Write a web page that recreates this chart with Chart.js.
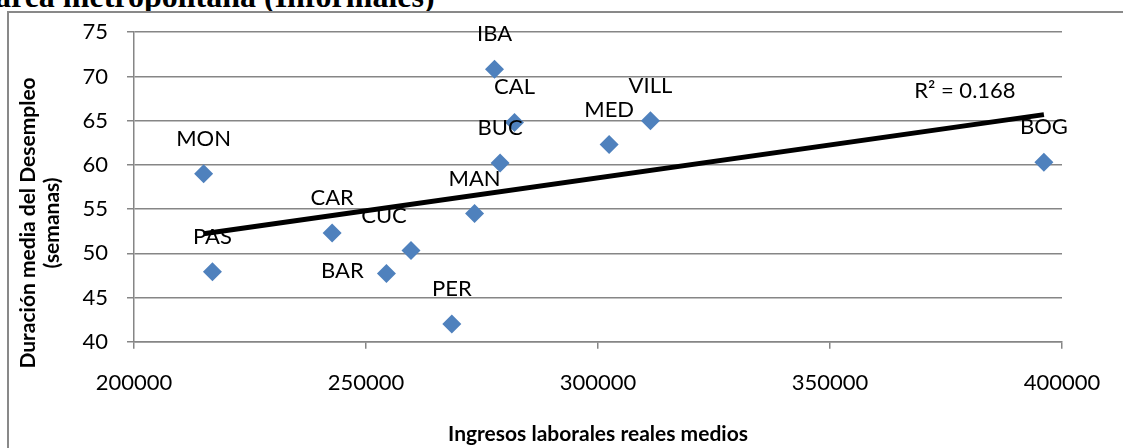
<!DOCTYPE html>
<html lang="es">
<head>
<meta charset="utf-8">
<title>Duración media del desempleo vs ingresos laborales</title>
<script src="https://cdn.jsdelivr.net/npm/chart.js@4.4.1/dist/chart.umd.min.js"></script>
<style>
  html, body { margin: 0; padding: 0; background: #fff; }
  #wrap { position: relative; width: 1123px; height: 448px; overflow: hidden; }
  #ttl { position: absolute; left: -5px; top: -20px; font: bold 32px/32px "Liberation Serif", serif; color: #000; white-space: nowrap; }
  #frame { position: absolute; left: 7px; top: 11px; width: 1200px; height: 500px; border-left: 2px solid #898989; border-top: 2px solid #898989; background: #fff; }
  #c { position: absolute; left: 0; top: 0; }
</style>
</head>
<body>
<div id="wrap">
  <div id="ttl">área metropolitana (Informales)</div>
  <div id="frame"></div>
  <canvas id="c" width="1123" height="448"></canvas>
</div>
<script>
// === Datos
const ciudades = ["MON", "PAS", "CAR", "BAR", "CUC", "PER", "MAN", "IBA", "BUC", "CAL", "MED", "VILL", "BOG"];
const ingresos = [215000, 216900, 242700, 254400, 259700, 268500, 273400, 277700, 278900, 282000, 302400, 311300, 396100];
const duracion = [59.0, 47.9, 52.3, 47.7, 50.3, 42.0, 54.5, 70.8, 60.2, 64.8, 62.3, 65.0, 60.3];
const xTicks = [200000, 250000, 300000, 350000, 400000];
const yTicks = [40, 45, 50, 55, 60, 65, 70, 75];
const r2Texto = "R² = 0.168";

// === Tendencia lineal (mínimos cuadrados sobre los mismos datos)
const n = ingresos.length;
const mx = ingresos.reduce((a, b) => a + b, 0) / n;
const my = duracion.reduce((a, b) => a + b, 0) / n;
let sxy = 0, sxx = 0;
for (let i = 0; i < n; i++) {
  sxy += (ingresos[i] - mx) * (duracion[i] - my);
  sxx += (ingresos[i] - mx) ** 2;
}
const pendiente = sxy / sxx;
const corte = my - pendiente * mx;
const xMin = Math.min(...ingresos), xMax = Math.max(...ingresos);
const tendencia = [
  { x: xMin, y: corte + pendiente * xMin },
  { x: xMax, y: corte + pendiente * xMax }
];

// === Etiquetas de puntos, R² y títulos de ejes
const desplaz = { BAR: [-44, -3], CUC: [-27, -35] };
const etiquetas = {
  id: "etiquetas",
  afterDatasetsDraw(chart) {
    const ctx = chart.ctx;
    const a = chart.chartArea;
    ctx.save();
    ctx.fillStyle = "#000";
    ctx.font = "22px Lato";
    ctx.textAlign = "center";
    ctx.textBaseline = "middle";
    chart.getDatasetMeta(1).data.forEach((pt, i) => {
      const d = desplaz[ciudades[i]] || [0, -35];
      ctx.fillText(ciudades[i], pt.x + d[0], pt.y + d[1]);
    });
    const fin = chart.getDatasetMeta(0).data[1];
    ctx.fillText(r2Texto, fin.x - 79, fin.y - 24);

    ctx.font = "bold 21px Lato";
    ctx.textBaseline = "alphabetic";
    ctx.fillText("Ingresos laborales reales medios", (a.left + a.right) / 2, 441);
    ctx.translate(0, (a.top + a.bottom) / 2 + 36);
    ctx.rotate(-Math.PI / 2);
    ctx.fillText("Duración media del Desempleo", 0, 35);
    ctx.fillText("(semanas)", 0, 59);
    ctx.restore();
  }
};

const gris = "#868686";
const fuenteTicks = { family: "Lato", size: 22 };

new Chart(document.getElementById("c"), {
  type: "scatter",
  data: {
    datasets: [
      {
        type: "line",
        label: "Lineal",
        data: tendencia,
        borderColor: "#000",
        borderWidth: 5,
        pointRadius: 0,
        fill: false,
        order: 0
      },
      {
        label: "Ciudades",
        data: ingresos.map((x, i) => ({ x: x, y: duracion[i] })),
        pointStyle: "rectRot",
        pointRadius: 9.5,
        backgroundColor: "#4F81BD",
        borderColor: "#4F81BD",
        borderWidth: 0,
        order: 1
      }
    ]
  },
  options: {
    responsive: false,
    animation: false,
    devicePixelRatio: 1,
    layout: { padding: { left: 0, top: 29.5, right: 61, bottom: 0 } },
    plugins: { legend: { display: false }, tooltip: { enabled: false } },
    scales: {
      x: {
        type: "linear",
        min: xTicks[0],
        max: xTicks[xTicks.length - 1],
        ticks: {
          stepSize: xTicks[1] - xTicks[0],
          padding: 21,
          color: "#000",
          font: fuenteTicks,
          maxRotation: 0,
          autoSkip: false,
          callback: v => String(v)
        },
        grid: { drawOnChartArea: false, color: gris, lineWidth: 1.5, tickLength: 7 },
        border: { color: gris, width: 1.5 },
        afterFit(s) { s.height = 106.3; }
      },
      y: {
        min: yTicks[0],
        max: yTicks[yTicks.length - 1],
        ticks: {
          stepSize: yTicks[1] - yTicks[0],
          padding: 19,
          color: "#000",
          font: fuenteTicks,
          callback: v => String(v)
        },
        grid: { color: gris, lineWidth: 1.5, tickLength: 7 },
        border: { color: gris, width: 1.5 },
        afterFit(s) { s.width = 134; }
      }
    }
  },
  plugins: [etiquetas]
});
</script>
</body>
</html>
